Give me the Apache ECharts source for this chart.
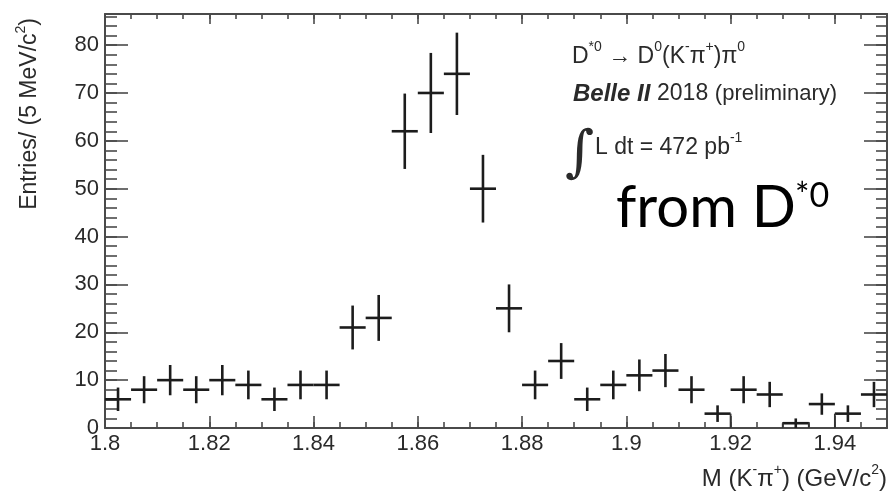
<!DOCTYPE html>
<html>
<head>
<meta charset="utf-8">
<script src="https://cdn.jsdelivr.net/npm/echarts@6/dist/echarts.min.js"></script>
<style>
  html, body { margin: 0; padding: 0; background: #fff; }
  #chart { width: 889px; height: 499px; }
</style>
</head>
<body>
<div id="chart"></div>
<script>
// Histogram binning of M(K-pi+)
const binLow = 1.8;
const binHigh = 1.95;
const binWidth = 0.005;

// Entries per 5 MeV/c^2 bin, from 1.800 to 1.950 GeV/c^2
const counts = [6, 8, 10, 8, 10, 9, 6, 9, 9, 21,
                23, 62, 70, 74, 50, 25, 9, 14, 6, 9,
                11, 12, 8, 3, 8, 7, 1, 5, 3, 7];

// Low-count bins whose outline is drawn down to the axis, and on which side
const outlineBins = [23, 26, 28];
const outlineSides = ['right', 'both', 'left'];

// Axis ticks
const xMajor = 0.02, xMinor = 0.005;
const yMax = 86.5, yMajor = 10, yMinor = 2;

const ink = '#1c1c1c';
const frame = '#4a4a4a';
const textInk = '#2a2a2a';
const labelFont = 'Liberation Sans, Arial, Helvetica, sans-serif';
const bigFont = 'Lato, Open Sans, sans-serif';

const points = counts.map((n, i) => [binLow + (i + 0.5) * binWidth, n, Math.sqrt(n)]);

const edges = [];
outlineBins.forEach((b, k) => {
  const lo = binLow + b * binWidth, hi = lo + binWidth;
  if (outlineSides[k] === 'left' || outlineSides[k] === 'both') edges.push([lo, counts[b]]);
  if (outlineSides[k] === 'right' || outlineSides[k] === 'both') edges.push([hi, counts[b]]);
});

const chart = echarts.init(document.getElementById('chart'), null, { renderer: 'canvas' });

function xAx(pos, interval, majorLen, showLabel, showLine) {
  return {
    type: 'value', position: pos, min: binLow, max: binHigh, interval: interval,
    axisLine: { show: showLine, onZero: false, lineStyle: { color: frame, width: 2 } },
    axisTick: { show: true, inside: true, length: majorLen, lineStyle: { color: frame, width: 1.6 } },
    axisLabel: {
      show: showLabel, showMaxLabel: false, margin: 5,
      fontFamily: labelFont, fontSize: 22, color: textInk
    },
    splitLine: { show: false }
  };
}
function yAx(pos, interval, majorLen, showLabel, showLine) {
  return {
    type: 'value', position: pos, min: 0, max: yMax, interval: interval,
    axisLine: { show: showLine, onZero: false, lineStyle: { color: frame, width: 2 } },
    axisTick: { show: true, inside: true, length: majorLen, lineStyle: { color: frame, width: 1.6 } },
    axisLabel: {
      show: showLabel, showMaxLabel: false, margin: 6,
      fontFamily: labelFont, fontSize: 22, color: textInk
    },
    splitLine: { show: false }
  };
}

// rich-text styles: main run sits on the bottom of the line box, superscripts on top
function runs(size, supSize, lh) {
  return {
    a: { fontFamily: labelFont, fontSize: size, fill: textInk, lineHeight: lh, verticalAlign: 'bottom' },
    s: { fontFamily: labelFont, fontSize: supSize, fill: textInk, lineHeight: lh, verticalAlign: 'top' }
  };
}

const option = {
  animation: false,
  backgroundColor: '#fff',
  grid: { left: 105, right: 2, top: 14, bottom: 71, containLabel: false },
  xAxis: [
    xAx('bottom', xMajor, 12, true, true),
    xAx('bottom', xMinor, 6, false, false),
    xAx('top', xMajor, 10, false, true),
    xAx('top', xMinor, 5, false, false)
  ],
  yAxis: [
    yAx('left', yMajor, 23, true, true),
    yAx('left', yMinor, 12, false, false),
    yAx('right', yMajor, 23, false, true),
    yAx('right', yMinor, 11, false, false)
  ],
  graphic: [
    {
      type: 'text', x: 28, y: 18, rotation: Math.PI / 2,
      style: {
        text: '{a|Entries/ (5 MeV/c}{s|2}{a|)}',
        align: 'right', verticalAlign: 'middle',
        rich: runs(23, 14, 27)
      }
    },
    {
      type: 'text', x: 887, y: 477,
      style: {
        text: '{a|M (K}{s|-}{a|π}{s|+}{a|) (GeV/c}{s|2}{a|)}',
        align: 'right', verticalAlign: 'middle',
        rich: runs(24, 14, 28)
      }
    },
    {
      type: 'text', x: 572, y: 54,
      style: {
        text: '{a|D}{s|*0}{a| → D}{s|0}{a|(K}{s|-}{a|π}{s|+}{a|)π}{s|0}',
        align: 'left', verticalAlign: 'middle',
        rich: runs(23, 14, 28)
      }
    },
    {
      type: 'text', x: 573, y: 94,
      style: {
        text: '{b|Belle II}  {a|2018}  {p|(preliminary)}',
        align: 'left', verticalAlign: 'middle',
        rich: {
          b: { fontFamily: labelFont, fontSize: 24, fontWeight: 'bold', fontStyle: 'italic', fill: textInk },
          a: { fontFamily: labelFont, fontSize: 23, fill: textInk },
          p: { fontFamily: labelFont, fontSize: 22, fill: textInk }
        }
      }
    },
    {
      type: 'text', x: 565, y: 155,
      style: {
        text: '∫', align: 'left', verticalAlign: 'middle',
        fontFamily: 'DejaVu Serif, serif', fontSize: 56, fill: textInk
      }
    },
    {
      type: 'text', x: 595, y: 145,
      style: {
        text: '{a|L dt = 472 pb}{s|-1}',
        align: 'left', verticalAlign: 'middle',
        rich: runs(23, 14, 28)
      }
    },
    {
      type: 'text', x: 616, y: 208,
      style: {
        text: 'from D', align: 'left', verticalAlign: 'middle',
        fontFamily: bigFont, fontSize: 58, fill: '#000'
      }
    },
    {
      type: 'text', x: 795, y: 196,
      style: {
        text: '*0', align: 'left', verticalAlign: 'middle',
        fontFamily: bigFont, fontSize: 34, fill: '#000'
      }
    }
  ],
  series: [
    {
      type: 'custom',
      name: 'data',
      xAxisIndex: 0, yAxisIndex: 0,
      data: points,
      clip: true,
      renderItem: function (params, api) {
        const x = api.value(0), y = api.value(1), e = api.value(2);
        const c = api.coord([x, y]);
        const l = api.coord([x - binWidth / 2, y]);
        const r = api.coord([x + binWidth / 2, y]);
        const t = api.coord([x, y + e]);
        const b = api.coord([x, Math.max(0, y - e)]);
        const st = { stroke: ink, lineWidth: 2.6 };
        return {
          type: 'group',
          children: [
            { type: 'line', shape: { x1: l[0], y1: c[1], x2: r[0], y2: c[1] }, style: st },
            { type: 'line', shape: { x1: c[0], y1: t[1], x2: c[0], y2: b[1] }, style: st }
          ]
        };
      }
    },
    {
      type: 'custom',
      name: 'outline',
      xAxisIndex: 0, yAxisIndex: 0,
      data: edges,
      renderItem: function (params, api) {
        const top = api.coord([api.value(0), api.value(1)]);
        const bot = api.coord([api.value(0), 0]);
        return {
          type: 'line',
          shape: { x1: top[0], y1: top[1], x2: bot[0], y2: bot[1] },
          style: { stroke: '#333', lineWidth: 1.8 }
        };
      }
    }
  ]
};

chart.setOption(option);
</script>
</body>
</html>
